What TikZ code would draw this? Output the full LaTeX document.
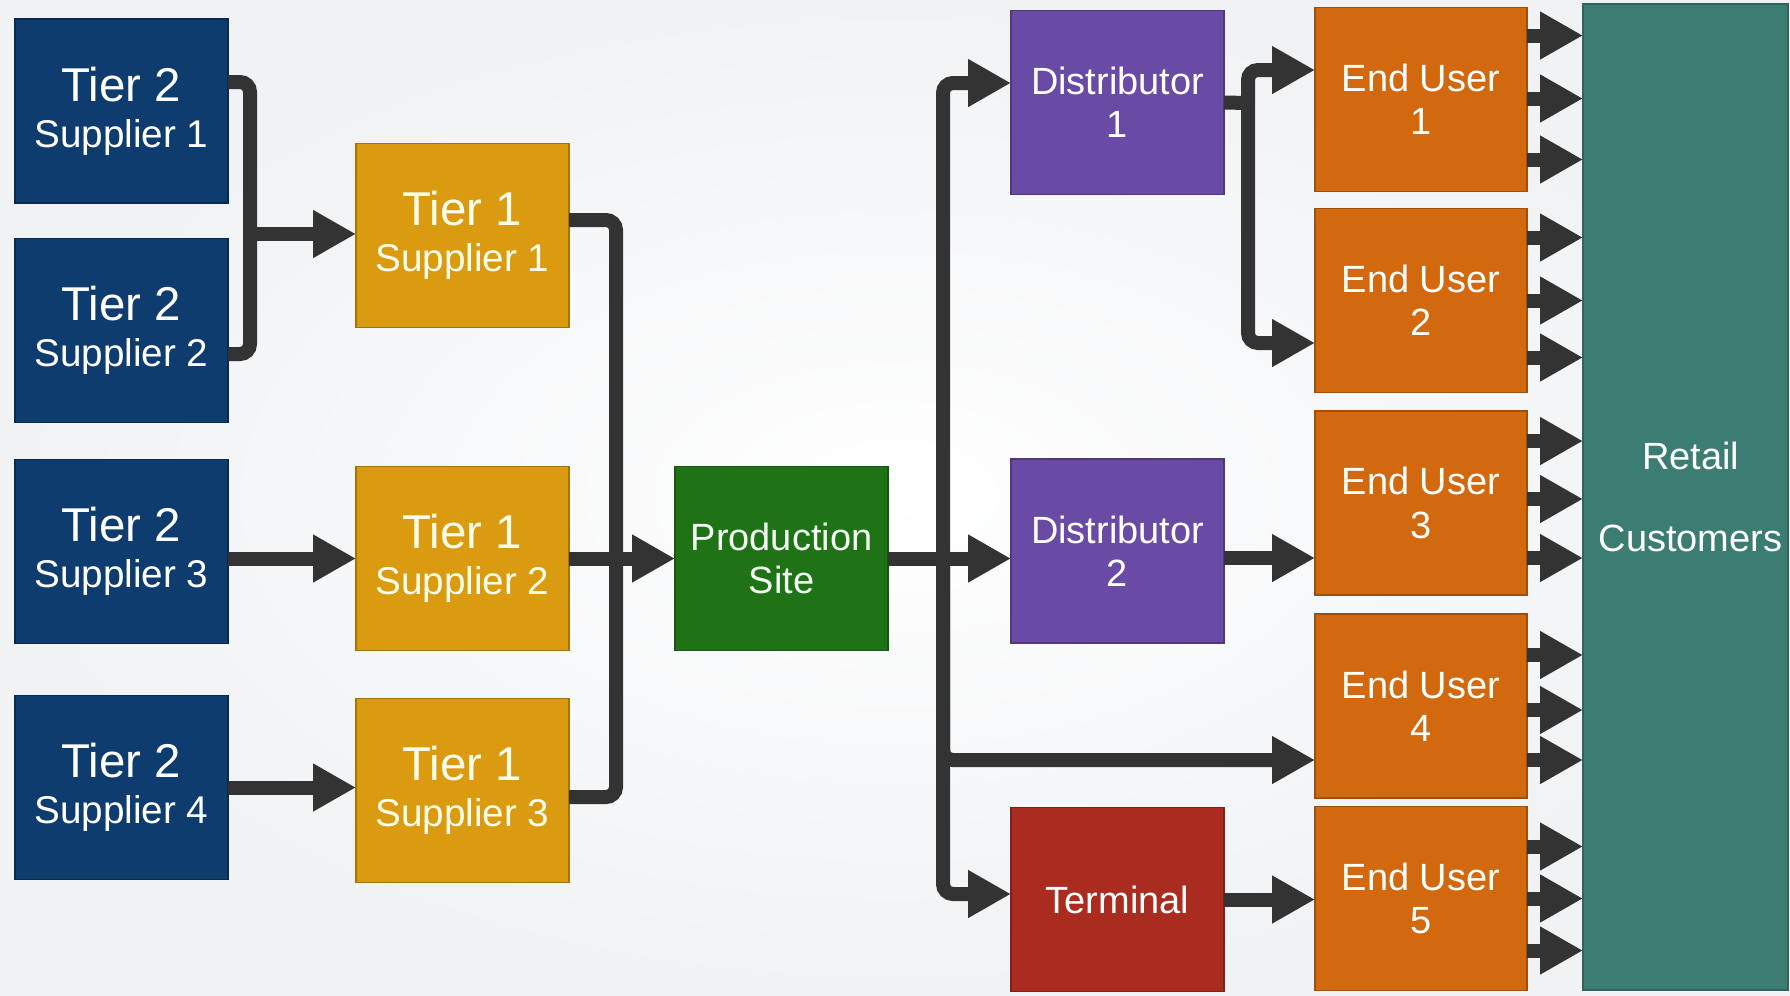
\documentclass[tikz,border=0pt]{standalone}
\usepackage{fontspec}
\setmainfont{Liberation Sans}
\usepackage{tikz}
\usetikzlibrary{positioning, arrows.meta}
\usepackage{xcolor}

\definecolor{bgcol}{HTML}{F0F2F4}
\definecolor{navy}{HTML}{0F3C6E}
\definecolor{gold}{HTML}{DA9B10}
\definecolor{leaf}{HTML}{1F7316}
\definecolor{grape}{HTML}{694BA5}
\definecolor{brick}{HTML}{AA2B1F}
\definecolor{rust}{HTML}{D2690F}
\definecolor{teal}{HTML}{3C7D73}
\definecolor{ink}{HTML}{333333}

\begin{document}
\begin{tikzpicture}[on grid,
    box/.style={rectangle, minimum width=2.13cm, minimum height=1.84cm, inner sep=0pt,
        outer sep=0pt, align=center, text=white, line width=0.4pt,
        font=\fontsize{10.8}{12.3}\selectfont},
    tiertwo/.style={box, fill=navy, draw=navy!70!black, font=\fontsize{11}{13}\selectfont},
    tierone/.style={box, fill=gold, draw=gold!75!black, text=yellow!8,
        font=\fontsize{11}{13}\selectfont},
    site/.style={box, fill=leaf, draw=leaf!75!black, text=green!5},
    dist/.style={box, fill=grape, draw=grape!75!black},
    term/.style={box, fill=brick, draw=brick!75!black},
    enduser/.style={box, fill=rust, draw=rust!75!black, minimum width=2.12cm},
    retail/.style={box, fill=teal, draw=teal!80!black, minimum width=2.05cm, minimum height=9.86cm},
    link/.style={draw=ink, line width=1.4mm, rounded corners=1mm},
    flow/.style={link, -{Triangle[length=4.3mm, width=4.5mm]}}]

    \shade[inner color=white, outer color=bgcol] (0,0) rectangle (17.9,-9.95);
    \useasboundingbox (0,0) rectangle (17.9,-9.95);

    % suppliers
    \node[tiertwo] (t2s1) at (1.215,-1.11) {{\fontsize{13.5}{13}\selectfont Tier 2}\\Supplier 1};
    \node[tiertwo, below=2.195 of t2s1] (t2s2) {{\fontsize{13.5}{13}\selectfont Tier 2}\\Supplier 2};
    \node[tiertwo, below=2.21 of t2s2] (t2s3) {{\fontsize{13.5}{13}\selectfont Tier 2}\\Supplier 3};
    \node[tiertwo, below=2.36 of t2s3] (t2s4) {{\fontsize{13.5}{13}\selectfont Tier 2}\\Supplier 4};

    \node[tierone] (t1s1) at (4.625,-2.355) {{\fontsize{13.5}{13}\selectfont Tier 1}\\Supplier 1};
    \node[tierone] (t1s2) at (4.625,-5.585) {{\fontsize{13.5}{13}\selectfont Tier 1}\\Supplier 2};
    \node[tierone, below=2.32 of t1s2] (t1s3) {{\fontsize{13.5}{13}\selectfont Tier 1}\\Supplier 3};

    \node[site, right=3.19 of t1s2] (site) {Production\\Site};

    % distribution
    \node[dist] (dist1) at (11.175,-1.025) {Distributor\\1};
    \node[dist] (dist2) at (11.175,-5.51) {Distributor\\2};
    \node[term] (term) at (11.175,-8.995) {Terminal};

    \node[enduser] (eu1) at (14.21,-0.995) {End User\\1};
    \node[enduser, below=2.01 of eu1] (eu2) {End User\\2};
    \node[enduser, below=2.025 of eu2] (eu3) {End User\\3};
    \node[enduser, below=2.03 of eu3] (eu4) {End User\\4};
    \node[enduser, below=1.925 of eu4] (eu5) {End User\\5};

    \node[retail] (retail) at (16.855,-4.97) {\hspace*{1mm}Retail\\[11pt]\hspace*{1mm}Customers};

    \coordinate (j1) at (2.5,-2.34);
    \coordinate (j2) at (6.16,-5.585);
    \coordinate (hub) at (9.43,-5.585);
    \coordinate (j4) at (12.48,-1.03);

    % bent links
    \draw[link] ([yshift=2.9mm]t2s1.east) -| (j1) |- ([yshift=-2.35mm]t2s2.east);
    \draw[link] ([yshift=1.55mm]t1s1.east) -| (j2) |- ([yshift=-0.65mm]t1s3.east);
    \draw[flow] (hub) |- ([yshift=1.95mm]dist1.west);
    \draw[flow] (hub) |- ([yshift=-5.4mm]eu4.west);
    \draw[flow] (hub) |- ([yshift=0.55mm]term.west);
    \draw[link] (dist1.east) -- (j4);
    \draw[flow] (j4) |- ([yshift=2.95mm]eu1.west);
    \draw[flow] (j4) |- ([yshift=-4.25mm]eu2.west);

    \path
        (j1) edge[flow] (j1 -| t1s1.west)
        (t2s3.east |- t1s2.west) edge[flow] (t1s2.west)
        (t2s4.east) edge[flow] (t2s4.east -| t1s3.west)
        (t1s2.east) edge[flow] (site.west)
        (site.east) edge[flow] (site.east -| dist2.west)
        ([yshift=-0.7mm]dist2.east) edge[flow] ([yshift=-0.7mm]dist2.east -| eu3.west)
        (term.east) edge[flow] (term.east -| eu5.west);

    % end users to retail
    \foreach \eu/\up/\mid/\dn in {eu1/6.4/0.1/-6.0, eu2/6.3/0/-5.7, eu3/6.2/0.4/-5.5,
                                  eu4/5.1/-0.4/-5.4, eu5/5.2/0/-5.2}
        \foreach \dy in {\up,\mid,\dn}
            \draw[flow] ([yshift=\dy mm]\eu.east) -- ([yshift=\dy mm]\eu.east -| retail.west);
\end{tikzpicture}
\end{document}
